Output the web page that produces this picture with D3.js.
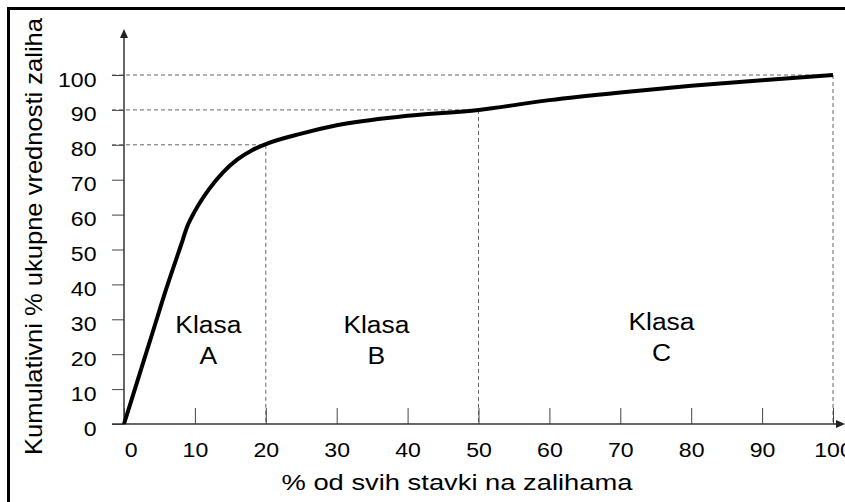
<!DOCTYPE html>
<html>
<head>
<meta charset="utf-8">
<script src="https://cdn.jsdelivr.net/npm/d3@7"></script>
<style>
  html, body { margin: 0; padding: 0; background: #fff; }
  svg { display: block; }
  text { font-family: "Liberation Sans", Arial, sans-serif; fill: #000; }
</style>
</head>
<body>
<svg id="chart" width="845" height="502"></svg>
<script>
// ---- data ----
const xPct = [0, 2, 4, 6, 8, 9, 10, 12, 14, 16, 18, 20, 25, 30, 40, 50, 60, 70, 80, 90, 100];
const yCum = [0, 13, 26, 39, 51, 57, 61, 67.3, 72.2, 75.8, 78.4, 80.2, 83.2, 85.6, 88.3, 90, 92.8, 95, 96.9, 98.5, 100];
const xTicks = [0, 10, 20, 30, 40, 50, 60, 70, 80, 90, 100];
const yTicks = [0, 10, 20, 30, 40, 50, 60, 70, 80, 90, 100];
const cutX = [20, 50, 100];
const cutY = [80, 90, 100];
const classNames = ["A", "B", "C"];
const classCenters = [11.9, 35.6, 75.8];
const classWord = "Klasa";
const xTitle = "% od svih stavki na zalihama";
const yTitle = "Kumulativni % ukupne vrednosti zaliha";

const svg = d3.select("#chart");
const x = d3.scaleLinear().domain([0, 100]).range([124, 833]);
const y = d3.scaleLinear().domain([0, 100]).range([424, 75]);

// frame (top and left edges)
svg.append("line").attr("x1", 8.5).attr("x2", 845).attr("y1", 8.5).attr("y2", 8.5)
  .attr("stroke", "#000").attr("stroke-width", 3);
svg.append("line").attr("x1", 8.5).attr("x2", 8.5).attr("y1", 7).attr("y2", 502)
  .attr("stroke", "#000").attr("stroke-width", 3);

// dashed guides
const dash = svg.append("g").attr("stroke", "#666").attr("stroke-width", 1).attr("stroke-dasharray", "4,3").attr("fill", "none");
cutX.forEach((cx, i) => {
  dash.append("line").attr("x1", 112).attr("x2", x(cx)).attr("y1", y(cutY[i])).attr("y2", y(cutY[i]));
  dash.append("line").attr("x1", x(cx)).attr("x2", x(cx)).attr("y1", y(cutY[i])).attr("y2", y(0));
});

// x axis
const gx = svg.append("g").attr("transform", `translate(0,${y(0)})`)
  .call(d3.axisBottom(x).tickValues(xTicks).tickSizeInner(-16).tickSizeOuter(0).tickFormat(d3.format("d")));
gx.select(".domain").remove();
gx.selectAll(".tick line").attr("stroke", "#444").attr("stroke-width", 1);
gx.selectAll(".tick text").attr("y", 33).attr("dy", 0)
  .attr("x", d => d === 0 ? 6 : 0)
  .attr("font-size", 21).attr("fill", "#000")
  .attr("transform", "scale(1.1,1)")
  .attr("font-family", "Liberation Sans, Arial, sans-serif");

// y axis
const gy = svg.append("g").attr("transform", `translate(${x(0)},0)`)
  .call(d3.axisLeft(y).tickValues(yTicks).tickSize(12).tickPadding(15).tickFormat(d3.format("d")));
gy.select(".domain").remove();
gy.selectAll(".tick line").attr("stroke", "#444").attr("stroke-width", 1);
gy.selectAll(".tick text").attr("y", 11).attr("dy", 0).attr("x", -25)
  .attr("font-size", 21).attr("fill", "#000")
  .attr("transform", "scale(1.1,1)")
  .attr("font-family", "Liberation Sans, Arial, sans-serif");

// axis lines with arrows
const ax = svg.append("g").attr("stroke", "#333").attr("stroke-width", 1.5);
ax.append("line").attr("x1", x(0)).attr("x2", x(0)).attr("y1", y(0)).attr("y2", 34);
ax.append("line").attr("x1", 112).attr("x2", 840).attr("y1", y(0)).attr("y2", y(0));
svg.append("path").attr("d", `M${x(0)},29 L${x(0) - 4},38 L${x(0) + 4},38 Z`).attr("fill", "#222");
svg.append("path").attr("d", `M845,${y(0)} L836,${y(0) - 4} L836,${y(0) + 4} Z`).attr("fill", "#222");

// curve
const line = d3.line().x((d, i) => x(xPct[i])).y((d, i) => y(yCum[i])).curve(d3.curveMonotoneX);
svg.append("path").datum(yCum).attr("d", line)
  .attr("fill", "none").attr("stroke", "#000").attr("stroke-width", 4).attr("stroke-linejoin", "round");

// class labels
const baseY = [333, 333, 330];
classNames.forEach((c, i) => {
  const cx = x(classCenters[i]);
  svg.append("text").attr("x", cx).attr("y", baseY[i]).attr("text-anchor", "middle")
    .attr("font-size", 23).attr("textLength", 66).attr("lengthAdjust", "spacingAndGlyphs")
    .text(classWord);
  svg.append("text").attr("text-anchor", "middle")
    .attr("transform", `translate(${cx},${baseY[i] + 31}) scale(1.15,1)`)
    .attr("font-size", 23).text(c);
});

// axis titles
svg.append("text").attr("x", 457).attr("y", 490).attr("text-anchor", "middle")
  .attr("font-size", 22).attr("textLength", 351).attr("lengthAdjust", "spacingAndGlyphs")
  .text(xTitle);
svg.append("text").attr("transform", "translate(42,236.5) rotate(-90)").attr("text-anchor", "middle")
  .attr("font-size", 24).attr("textLength", 437).attr("lengthAdjust", "spacingAndGlyphs")
  .text(yTitle);
</script>
</body>
</html>
